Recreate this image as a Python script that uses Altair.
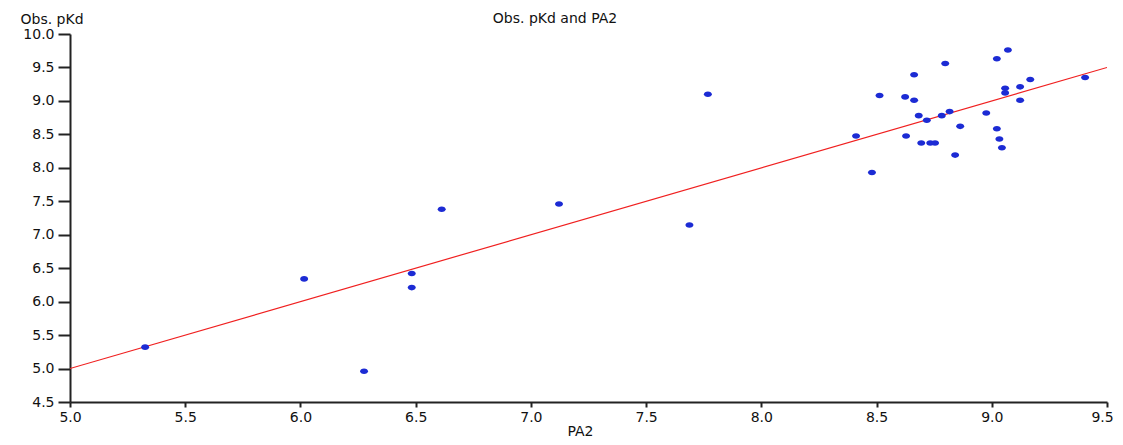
import altair as alt
import pandas as pd

pa2 = [5.326, 6.016, 6.276, 6.483, 6.483, 6.613, 7.122, 7.688, 7.768,
       8.411, 8.480, 8.513, 8.624, 8.628, 8.663, 8.663, 8.683, 8.694, 8.718,
       8.733, 8.754, 8.783, 8.798, 8.817, 8.841, 8.863, 8.976, 9.022, 9.022,
       9.033, 9.044, 9.058, 9.058, 9.070, 9.123, 9.123, 9.167, 9.405]
obs_pkd = [5.32, 6.34, 4.96, 6.42, 6.21, 7.38, 7.46, 7.145, 9.10,
           8.475, 7.93, 9.08, 9.06, 8.475, 9.39, 9.01, 8.78, 8.37, 8.71,
           8.37, 8.37, 8.78, 9.56, 8.84, 8.19, 8.62, 8.82, 9.63, 8.585,
           8.43, 8.30, 9.19, 9.12, 9.76, 9.21, 9.01, 9.32, 9.35]

fit_x = [5.0, 9.5]
fit_y = [5.0, 9.5]

x_ticks = [5.0, 5.5, 6.0, 6.5, 7.0, 7.5, 8.0, 8.5, 9.0, 9.5]
y_ticks = [4.5, 5.0, 5.5, 6.0, 6.5, 7.0, 7.5, 8.0, 8.5, 9.0, 9.5, 10.0]

title_text = ["Obs. pKd and PA2"]

FONT = "DejaVu Sans"
FS = 14

pts = pd.DataFrame({"PA2": pa2, "Obs": obs_pkd})
fit = pd.DataFrame({"PA2": fit_x, "Obs": fit_y})

xscale = alt.Scale(domain=[5.0, 9.5], nice=False, zero=False)
yscale = alt.Scale(domain=[4.5, 10.0], nice=False, zero=False)

xaxis = alt.Axis(values=x_ticks, format=".1f", grid=False, title="PA2",
                 labelOverlap=False, labelBound=False, labelFlush=False,
                 labelOffset={"condition": {"test": "datum.value >= 9.5", "value": -5}, "value": 0},
                 domainColor="#222", domainWidth=2, tickColor="#222", tickWidth=2,
                 tickSize=5, labelPadding=3, labelFont=FONT, labelFontSize=FS,
                 labelColor="#111", titleFont=FONT, titleFontSize=FS,
                 titleFontWeight="normal", titleColor="#111",
                 titleX=510, titleY=29, titleBaseline="middle", titleAlign="center")
yaxis = alt.Axis(values=y_ticks, format=".1f", grid=False, title="Obs. pKd",
                 labelOverlap=False, labelBound=False, labelFlush=False,
                 domainColor="#222", domainWidth=2, tickColor="#222", tickWidth=2,
                 tickSize=12, labelPadding=4, labelFont=FONT, labelFontSize=FS,
                 labelColor="#111", titleFont=FONT, titleFontSize=FS,
                 titleFontWeight="normal", titleColor="#111", titleAngle=0,
                 titleX=-50, titleY=-15, titleAlign="left", titleBaseline="middle")

X = alt.X("PA2:Q", scale=xscale, axis=xaxis)
Y = alt.Y("Obs:Q", scale=yscale, axis=yaxis)

line = alt.Chart(fit).mark_line(color="#f02020", strokeWidth=1.2, clip=True).encode(x=X, y=Y)

ellipse = "M -1 0 A 1 0.7 0 1 0 1 0 A 1 0.7 0 1 0 -1 0 Z"
points = alt.Chart(pts).mark_point(filled=True, shape=ellipse, size=64,
                                   color="#1c2bd4", opacity=1).encode(x=X, y=Y)

title = alt.Chart(pd.DataFrame({"t": title_text})).mark_text(
    font=FONT, fontSize=FS, color="#111", align="center", baseline="middle"
).encode(text="t:N", x=alt.value(485), y=alt.value(-15))

chart = alt.layer(line, points, title).properties(
    width=1037, height=368,
    autosize=alt.AutoSizeParams(type="none"),
    padding={"left": 62, "top": 26, "right": 8, "bottom": 35},
    background="white",
).configure_view(stroke=None)

chart.save("out.html", embed_options={"renderer": "svg", "actions": False})
